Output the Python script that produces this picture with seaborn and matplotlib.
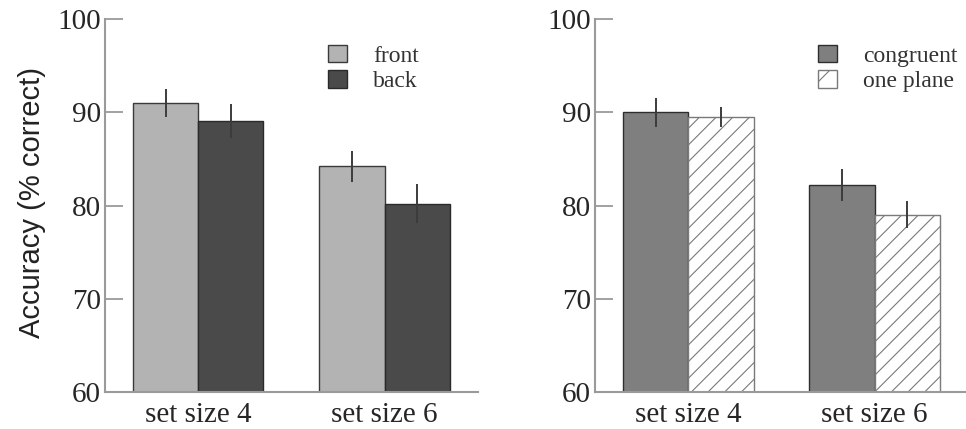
import pandas as pd
import seaborn as sns
import matplotlib
matplotlib.use('Agg')
import matplotlib.pyplot as plt
from matplotlib.patches import Patch

# Data
set_sizes = ['set size 4', 'set size 6']

front = [91.0, 84.2]
front_err = [1.5, 1.65]
back = [89.1, 80.2]
back_err = [1.8, 2.1]

congruent = [90.0, 82.2]
congruent_err = [1.55, 1.7]
one_plane = [89.5, 79.0]
one_plane_err = [1.1, 1.45]

y_ticks = [60, 70, 80, 90, 100]

# Style
sns.set_style('ticks')
plt.rcParams['font.family'] = ['Liberation Serif', 'DejaVu Serif']
plt.rcParams['hatch.linewidth'] = 0.8

spine_col = '#9a9a9a'
err_col = '#3c3c3c'


def make_df(names, values):
    rows = []
    for name, vals in zip(names, values):
        for s, v in zip(set_sizes, vals):
            rows.append({'set_size': s, 'condition': name, 'accuracy': v})
    return pd.DataFrame(rows)


def draw_panel(ax, names, values, errors, colors, hatches, edges):
    df = make_df(names, values)
    sns.barplot(data=df, x='set_size', y='accuracy', hue='condition',
                hue_order=names, palette=colors, saturation=1, width=0.7,
                errorbar=None, linewidth=1.0, ax=ax, legend=False)

    # hatch, edge and error bars for each bar
    for cont, hatch, edge, err in zip(ax.containers, hatches, edges, errors):
        for bar, e in zip(cont, err):
            bar.set_hatch(hatch)
            bar.set_edgecolor(edge)
            cx = bar.get_x() + bar.get_width() / 2
            ax.errorbar(cx, bar.get_height(), yerr=e, color=err_col,
                        lw=1.4, capsize=0, zorder=5)

    ax.set_ylim(60, 100)
    ax.set_yticks(y_ticks)
    ax.set_xlabel('')
    ax.set_ylabel('')
    sns.despine(ax=ax)
    for side in ['left', 'bottom']:
        ax.spines[side].set_color(spine_col)
        ax.spines[side].set_linewidth(1.5)
    ax.tick_params(axis='y', direction='in', length=13, width=1.3,
                   color=spine_col, labelsize=21, pad=3)
    ax.tick_params(axis='x', length=0, labelsize=21, pad=7)

    handles = [Patch(facecolor=c, edgecolor=ed, hatch=h[:1], linewidth=1.0)
               for c, h, ed in zip(colors, hatches, edges)]
    ax.legend(handles, names, loc='upper left', bbox_to_anchor=(0.598, 0.932),
              frameon=False, fontsize=17, handlelength=0.8, handleheight=0.77,
              handletextpad=1.1, labelspacing=0.15, borderpad=0,
              borderaxespad=0, labelcolor='#333333')


fig = plt.figure(figsize=(9.66, 4.29), dpi=100)
ax1 = fig.add_axes([0.1087, 0.0862, 0.386, 0.869])
ax2 = fig.add_axes([0.616, 0.0862, 0.386, 0.869])

draw_panel(ax1, ['front', 'back'], [front, back], [front_err, back_err],
           ['#b3b3b3', '#4a4a4a'], ['', ''], ['#3a3a3a', '#2a2a2a'])
ax1.set_xlim(-0.5, 1.5)

draw_panel(ax2, ['congruent', 'one plane'], [congruent, one_plane],
           [congruent_err, one_plane_err],
           ['#7f7f7f', '#ffffff'], ['', '//'], ['#2e2e2e', '#7a7a7a'])
ax2.set_xlim(-0.5, 1.5)

fig.text(0.033, 0.527, 'Accuracy (% correct)', rotation=90, ha='center',
         va='center', fontsize=21, family=['Liberation Sans', 'DejaVu Sans'],
         color='#222222')

plt.savefig('out.png', dpi=100)
plt.close()
